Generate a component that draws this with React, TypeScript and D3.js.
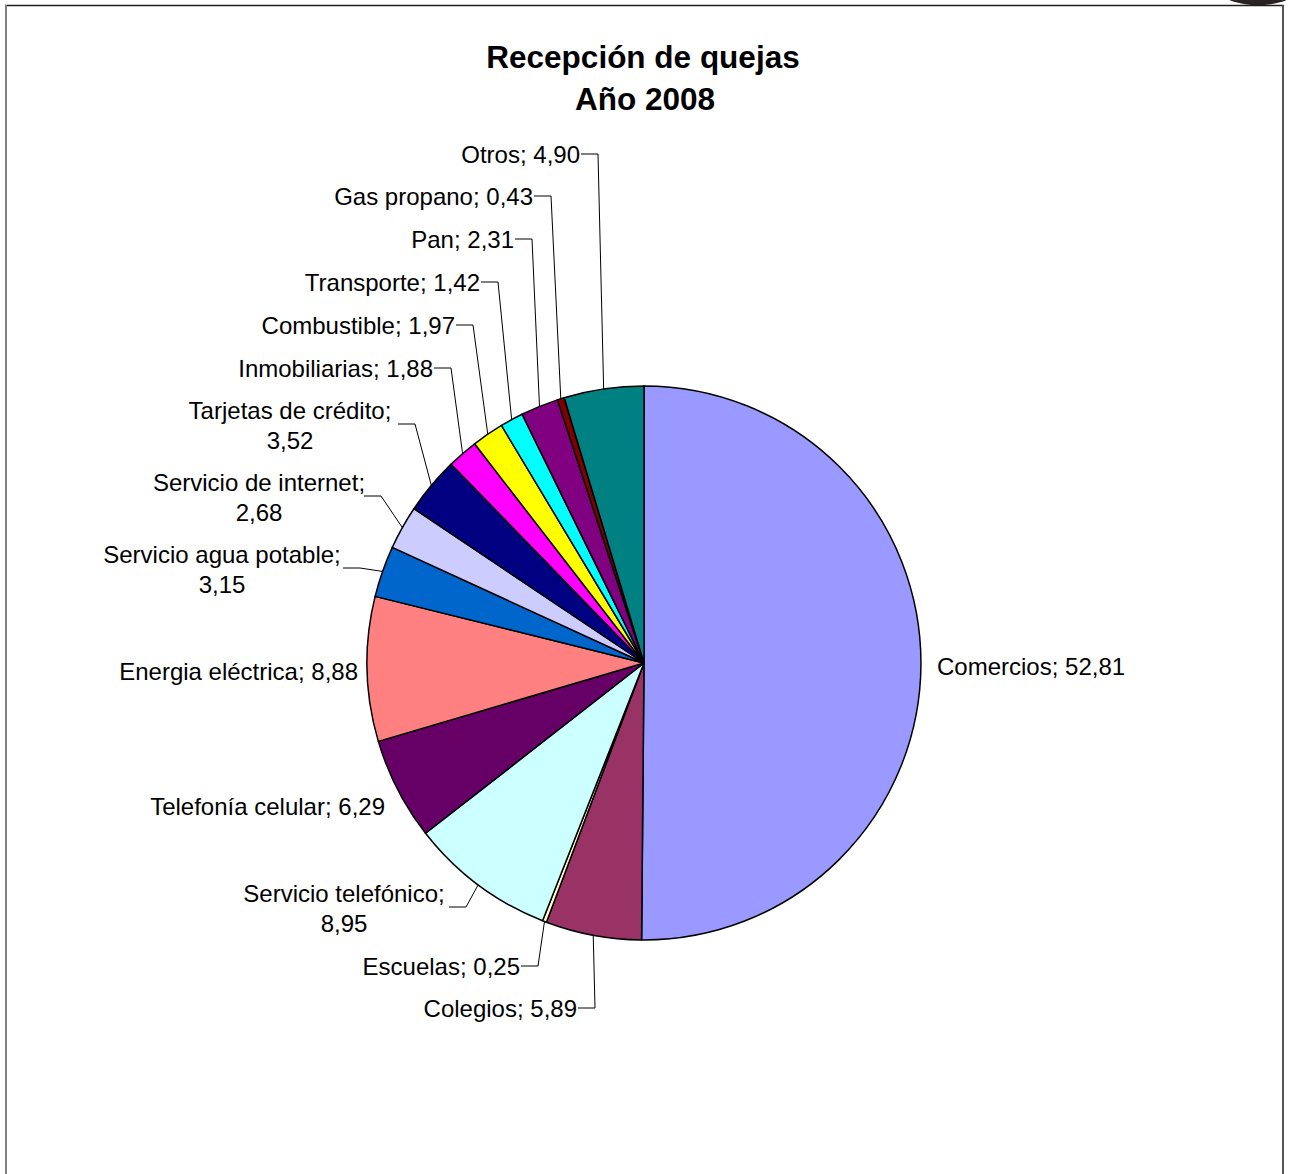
import React from "react";
import * as d3 from "d3";

const categories = [
  "Comercios", "Colegios", "Escuelas", "Servicio telefónico", "Telefonía celular",
  "Energia eléctrica", "Servicio agua potable", "Servicio de internet", "Tarjetas de crédito",
  "Inmobiliarias", "Combustible", "Transporte", "Pan", "Gas propano", "Otros",
];
const values = [52.81, 5.89, 0.25, 8.95, 6.29, 8.88, 3.15, 2.68, 3.52, 1.88, 1.97, 1.42, 2.31, 0.43, 4.9];
const colors = [
  "#9999FF", "#993366", "#FFFFCC", "#CCFFFF", "#660066", "#FF8080", "#0066CC", "#CCCCFF",
  "#000080", "#FF00FF", "#FFFF00", "#00FFFF", "#800080", "#800000", "#008080",
];
const titleLines = ["Recepción de quejas", "Año 2008"];

// label layout (text anchor position, alignment, two-line flag, leader flag)
type Lay = { x: number; y: number; anchor: "start" | "end" | "middle"; two: boolean; leader: boolean; ex?: number };
const labelLayout: Lay[] = [
  { x: 937, y: 666, anchor: "start", two: false, leader: false },
  { x: 577, y: 1008, anchor: "end", two: false, leader: true },
  { x: 520, y: 966, anchor: "end", two: false, leader: true },
  { x: 344, y: 893, anchor: "middle", two: true, leader: true, ex: 449 },
  { x: 385, y: 806, anchor: "end", two: false, leader: false },
  { x: 358, y: 671, anchor: "end", two: false, leader: false },
  { x: 222, y: 554, anchor: "middle", two: true, leader: true, ex: 343 },
  { x: 259, y: 482, anchor: "middle", two: true, leader: true, ex: 364 },
  { x: 290, y: 410, anchor: "middle", two: true, leader: true, ex: 398 },
  { x: 433, y: 368, anchor: "end", two: false, leader: true },
  { x: 455, y: 325, anchor: "end", two: false, leader: true },
  { x: 480, y: 282, anchor: "end", two: false, leader: true },
  { x: 514, y: 239, anchor: "end", two: false, leader: true },
  { x: 533, y: 196, anchor: "end", two: false, leader: true },
  { x: 580, y: 154, anchor: "end", two: false, leader: true },
];

const W = 1289;
const H = 1174;
const CX = 644;
const CY = 663;
const R = 277;
const FONT = "'Liberation Sans', Arial, sans-serif";
const FS = 24;
const LINE = 30;

const fmt = (v: number) => v.toFixed(2).replace(".", ",");

export default function App() {
  const data = categories.map((c, i) => ({ name: c, value: values[i], color: colors[i], lay: labelLayout[i] }));
  const pie = d3.pie<any>().sort(null).value((d: any) => d.value).startAngle(0).endAngle(2 * Math.PI);
  const arcs = pie(data);
  const arc = d3.arc<any>().innerRadius(0).outerRadius(R);
  const edge = d3.arc<any>().innerRadius(R).outerRadius(R);

  return (
    <svg
      width={W}
      height={H}
      style={{ position: "absolute", left: 0, top: 0, background: "#fff" }}
      fontFamily={FONT}
    >
      <rect x={0} y={0} width={W} height={H} fill="#fff" />
      {/* logo fragment */}
      <ellipse cx={1258} cy={-6} rx={34} ry={11} fill="#2b2222" />
      {/* frame */}
      <line x1={5} y1={5.5} x2={1284} y2={5.5} stroke="#1e1e1e" strokeWidth={1.5} />
      <rect x={5} y={5} width={2} height={H} fill="#808080" />
      <line x1={1283} y1={5} x2={1283} y2={H} stroke="#555" strokeWidth={2} />

      {/* title */}
      <text x={643} y={68} textAnchor="middle" fontSize={31.5} fontWeight="bold" fill="#000">
        {titleLines[0]}
      </text>
      <text x={645} y={110} textAnchor="middle" fontSize={31.5} fontWeight="bold" fill="#000">
        {titleLines[1]}
      </text>

      <g transform={`translate(${CX},${CY})`}>
        {arcs.map((a, i) => (
          <path key={i} d={arc(a) as string} fill={a.data.color} stroke="#000" strokeWidth={1.5} strokeLinejoin="round" />
        ))}
      </g>

      {arcs.map((a, i) => {
        const lay: Lay = a.data.lay;
        const [px, py] = edge.centroid(a);
        const ptx = CX + px;
        const pty = CY + py;
        const nodes: React.ReactNode[] = [];
        if (lay.two) {
          nodes.push(
            <text key="t1" x={lay.x} y={lay.y + 8.5} textAnchor="middle" fontSize={FS} fill="#000">
              {a.data.name + ";"}
            </text>,
            <text key="t2" x={lay.x} y={lay.y + LINE + 8.5} textAnchor="middle" fontSize={FS} fill="#000">
              {fmt(a.data.value)}
            </text>
          );
        } else {
          nodes.push(
            <text key="t" x={lay.x} y={lay.y + 8.5} textAnchor={lay.anchor} fontSize={FS} fill="#000">
              {`${a.data.name}; ${fmt(a.data.value)}`}
            </text>
          );
        }
        if (lay.leader) {
          const sx = lay.two ? (lay.ex as number) : lay.x + 1;
          const sy = lay.two ? lay.y + LINE / 2 - 1 : lay.y;
          const pts: [number, number][] = [
            [sx, sy],
            [sx + 17, sy],
            [ptx, pty],
          ];
          nodes.push(
            <path key="l" d={d3.line()(pts) as string} fill="none" stroke="#000" strokeWidth={1} />
          );
        }
        return <g key={i}>{nodes}</g>;
      })}
    </svg>
  );
}
